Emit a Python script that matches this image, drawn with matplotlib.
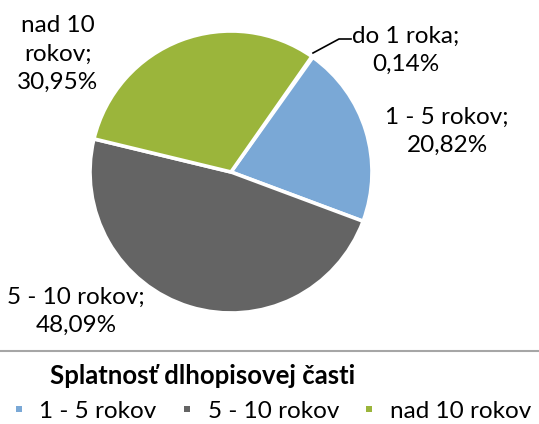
import matplotlib.pyplot as plt
from matplotlib.lines import Line2D

plt.rcParams['font.family'] = ['Lato', 'DejaVu Sans']

# ── Data ─────────────────────────────────────────────────────────────────────
categories = ["do 1 roka", "1 - 5 rokov", "5 - 10 rokov", "nad 10 rokov"]
shares = [0.14, 20.82, 48.09, 30.95]
colors = ["#FFFFFF", "#7AA8D6", "#646464", "#9BB53B"]
label_text = ["do 1 roka;\n0,14%", "1 - 5 rokov;\n20,82%",
              "5 - 10 rokov;\n48,09%", "nad 10\nrokov;\n30,95%"]
legend_title = "Splatnosť dlhopisovej časti"

W, H = 539, 424
fig = plt.figure(figsize=(W / 100, H / 100), dpi=100)
ax = fig.add_axes([0, 0, 1, 1])

wedges, _ = ax.pie(
    shares,
    colors=colors,
    startangle=55,
    counterclock=False,
    center=(231, H - 172),
    radius=141,
    frame=True,
    wedgeprops=dict(edgecolor="white", linewidth=2.6),
)
ax.set_xlim(0, W)
ax.set_ylim(0, H)
ax.axis("off")

# data labels (pixel positions, y measured from top)
label_pos = [(406, 50), (447, 131), (76, 311), (58, 54)]
for txt, (x, y) in zip(label_text, label_pos):
    ax.text(x, H - y, txt, ha="center", va="center", fontsize=17.5,
            linespacing=1.42, color="#000000")

# leader line for the tiny slice
ax.plot([313, 339, 351], [H - 53, H - 39, H - 39], color="black", lw=1.2)

# separator above the legend
ax.plot([0, W], [H - 351, H - 351], color="#A6A6A6", lw=1.5)

fig.text(50 / W, 1 - 376 / H, legend_title, ha="left", va="center",
         fontsize=18.5, fontweight="bold")

handles = [Line2D([], [], marker="s", linestyle="none", markersize=5,
                  markerfacecolor=w.get_facecolor(), markeredgewidth=0)
           for w in wedges[1:]]
ax.legend(handles, categories[1:], loc="center", ncol=3,
          bbox_to_anchor=(272 / W, 1 - 411 / H), frameon=False,
          fontsize=17.5, handletextpad=0.6, columnspacing=1.0,
          borderpad=0, handlelength=0.5)

fig.savefig("out.png", dpi=100)
